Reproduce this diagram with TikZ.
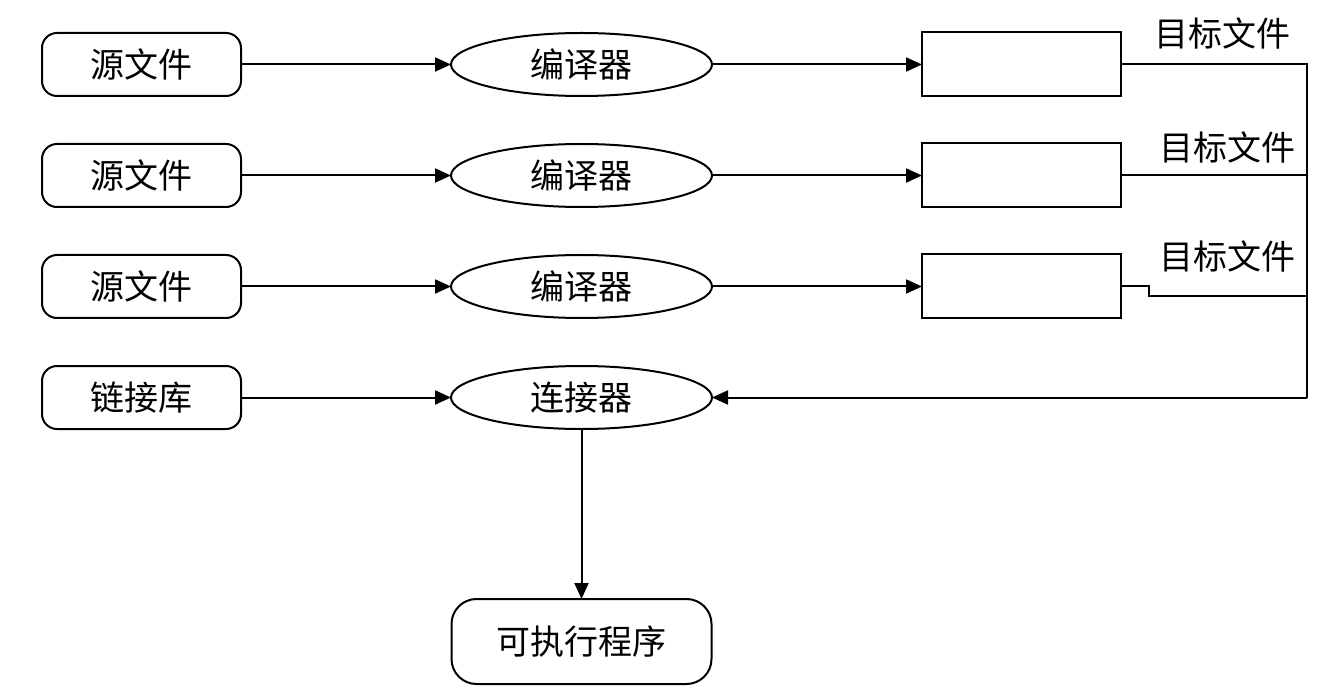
\documentclass[tikz,border=0pt]{standalone}
\usepackage{fontspec}
\newfontfamily\cjk{Noto Sans CJK SC}
\usetikzlibrary{positioning, calc, arrows.meta}
\usetikzlibrary{shapes.geometric}
\tikzset{
	srcbox/.style={draw, rectangle, rounded corners=15pt, inner sep=0pt, outer sep=0pt, minimum width=199pt, minimum height=63pt},
	tool/.style={draw, ellipse, inner sep=0pt, outer sep=0pt, minimum width=261pt, minimum height=63pt},
	objbox/.style={draw, rectangle, inner sep=0pt, outer sep=0pt, minimum width=199pt, minimum height=64pt},
	exebox/.style={draw, rectangle, rounded corners=25pt, inner sep=0pt, outer sep=0pt, minimum width=260pt, minimum height=85pt},
	% file names beside the object boxes
	objlabel/.style={anchor=west, inner sep=0pt}
}

\begin{document}
\begin{tikzpicture}[x=1pt, y=1pt, node distance=48pt and 210pt, line width=2pt,
		font=\cjk\fontsize{34}{40}\selectfont]
			\useasboundingbox (0,0) rectangle (1335,-700);
			\node (src1) [srcbox] at (141.5,-64.5) {源文件};
			\node (src2) [srcbox, below=of src1] {源文件};
			\node (src3) [srcbox, below=of src2] {源文件};
			\node (lib) [srcbox, below=of src3] {链接库};
			
			\node (cc1) [tool, right=of src1] {编译器};
			\node (cc2) [tool, right=of src2] {编译器};
			\node (cc3) [tool, right=of src3] {编译器};
			\node (ld) [tool, right=of lib] {连接器};
			
			\node (obj1) [objbox, right=of cc1] {};
			\node (obj2) [objbox, right=of cc2] {};
			\node (obj3) [objbox, right=of cc3] {};
			
			\node (exe) [exebox, below=170pt of ld] {可执行程序};
			
			\node (name1) [objlabel] at ($(obj1.north east)+(32,-1)$) {目标文件};
			\node (name2) [objlabel] at ($(obj2.north east)+(37,-4)$) {目标文件};
			\node (name3) [objlabel] at ($(obj3.north east)+(37,-2)$) {目标文件};
			
			\coordinate (bus) at ($(obj1.east)+(186,0)$);
			\coordinate (busend) at (bus |- ld.east);
			
			\begin{scope}[black, ->, >={Triangle[length=16pt, width=14pt]}]
				\draw (src1) -- (cc1);
				\draw (src2) -- (cc2);
				\draw (src3) -- (cc3);
				\draw (lib) -- (ld);
				\draw (cc1) -- (obj1);
				\draw (cc2) -- (obj2);
				\draw (cc3) -- (obj3);
				\draw (busend) -- (ld);
				\draw (ld) -- (exe);
			\end{scope}
			
			\draw (obj1.east) -- (bus) -- (busend);
			\draw (obj2.east) -- (obj2.east -| bus);
			\draw (obj3.east) -- ++(28,0) -- ++(0,-10) -- ($(obj3.east -| bus)+(0,-10)$);
		\end{tikzpicture}
\end{document}
